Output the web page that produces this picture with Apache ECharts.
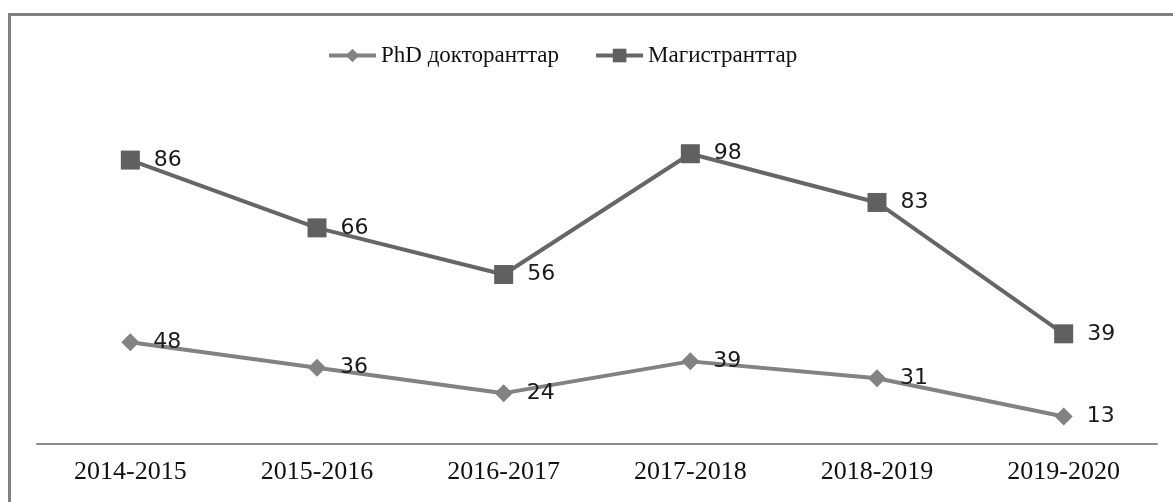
<!DOCTYPE html>
<html>
<head>
<meta charset="utf-8">
<script src="https://cdn.jsdelivr.net/npm/echarts@6/dist/echarts.min.js"></script>
<style>
  html, body { margin: 0; padding: 0; background: #fff; }
  .frame {
    position: absolute;
    left: 8px;
    top: 13px;
    width: 1180px;
    height: 500px;
    border-left: 3px solid #808080;
    border-top: 3px solid #808080;
  }
  #chart { position: absolute; left: 0; top: 0; width: 1173px; height: 502px; }
</style>
</head>
<body>
<div class="frame"></div>
<div id="chart"></div>
<script>
const years = ['2014-2015', '2015-2016', '2016-2017', '2017-2018', '2018-2019', '2019-2020']
const phdValues = [48, 36, 24, 39, 31, 13]
const masterValues = [86, 66, 56, 98, 83, 39]

const chart = echarts.init(document.getElementById('chart'))

const labelStyle = {
  show: true,
  position: 'right',
  distance: 14,
  color: '#1a1a1a',
  fontFamily: 'DejaVu Sans',
  fontSize: 22
}

chart.setOption({
  animation: false,
  legend: {
    top: 39,
    left: 322,
    itemWidth: 47,
    itemHeight: 17,
    itemGap: 35,
    lineStyle: { width: 4 },
    textStyle: {
      fontFamily: 'Liberation Serif',
      fontSize: 23,
      color: '#111'
    },
    data: ['PhD докторанттар', 'Магистранттар']
  },
  grid: {
    left: 37,
    right: 16,
    top: 105,
    bottom: 58
  },
  xAxis: {
    type: 'category',
    data: years,
    boundaryGap: true,
    axisLine: { lineStyle: { color: '#8c8c8c', width: 2 } },
    axisTick: { show: false },
    axisLabel: {
      margin: 15,
      fontFamily: 'Liberation Serif',
      fontSize: 26,
      color: '#111'
    }
  },
  yAxis: {
    type: 'value',
    min: 0,
    max: 160,
    show: false,
    splitLine: { show: false }
  },
  series: [
    {
      name: 'PhD докторанттар',
      type: 'line',
      stack: 'total',
      data: phdValues,
      symbol: 'diamond',
      symbolSize: 18,
      lineStyle: { color: '#828282', width: 4 },
      itemStyle: { color: '#828282' },
      label: labelStyle
    },
    {
      name: 'Магистранттар',
      type: 'line',
      stack: 'total',
      data: masterValues,
      symbol: 'rect',
      symbolSize: 19,
      lineStyle: { color: '#666666', width: 4 },
      itemStyle: { color: '#606060' },
      label: labelStyle
    }
  ]
})
</script>
</body>
</html>
